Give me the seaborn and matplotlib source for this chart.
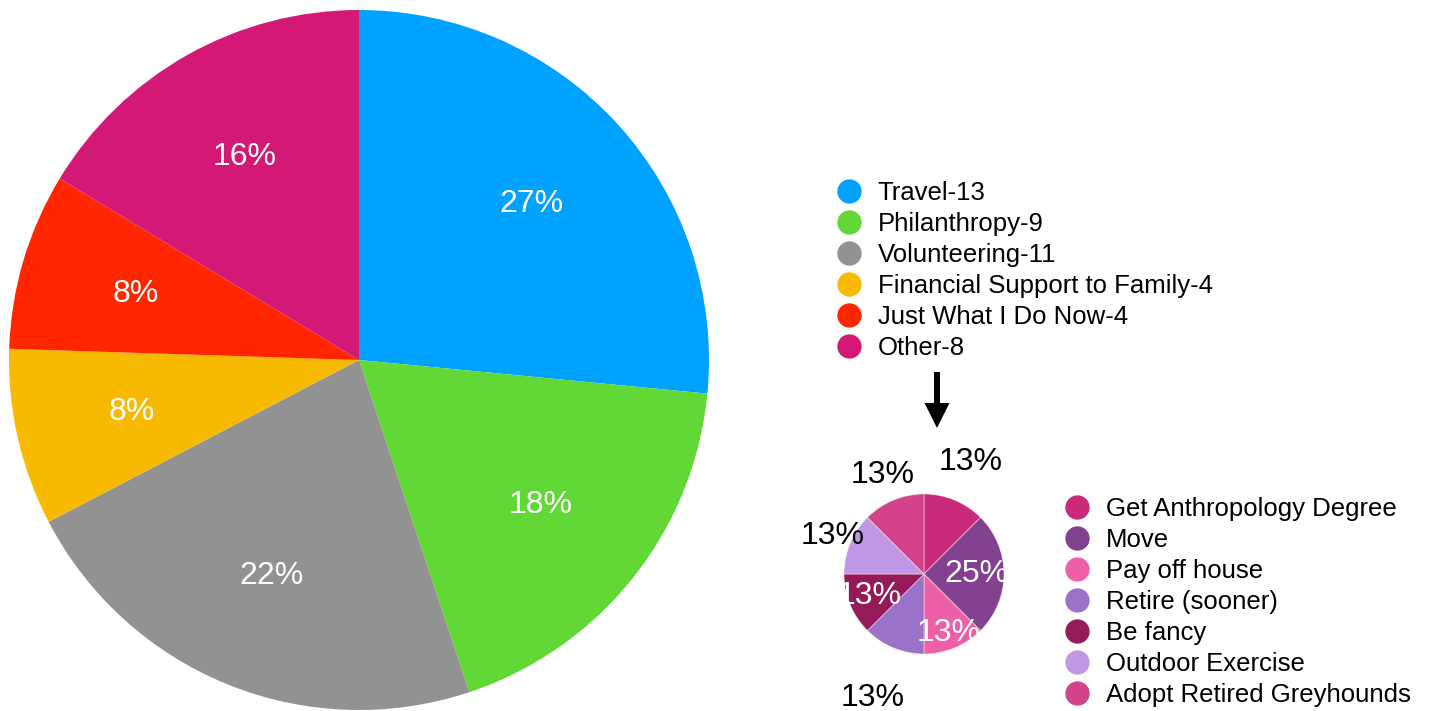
import numpy as np
import seaborn as sns
import matplotlib.pyplot as plt
from matplotlib.lines import Line2D

# main pie data
main_labels = ["Travel-13", "Philanthropy-9", "Volunteering-11",
               "Financial Support to Family-4", "Just What I Do Now-4", "Other-8"]
main_counts = [13, 9, 11, 4, 4, 8]
main_colors = ["#00A2FF", "#61D836", "#929292", "#F8BA00", "#FF2600", "#D31876"]

# breakdown of "Other"
other_labels = ["Get Anthropology Degree", "Move", "Pay off house", "Retire (sooner)",
                "Be fancy", "Outdoor Exercise", "Adopt Retired Greyhounds"]
other_counts = [1, 2, 1, 1, 1, 1, 1]
other_colors = ["#CA2A7A", "#81418F", "#EF5FA8", "#9B72CA", "#961A58", "#BE97E5", "#D3428A"]
# where each percent label sits (fraction of radius) and its colour
other_label_dist = [1.52, 0.66, 0.80, 1.68, 0.73, 1.24, 1.34]
other_label_color = ["black", "white", "white", "black", "white", "black", "black"]

sns.set_theme(style="white")
plt.rcParams["font.family"] = ["Liberation Sans", "DejaVu Sans"]
plt.rcParams["text.color"] = "black"

W, H = 1444, 711
fig = plt.figure(figsize=(W / 100, H / 100), dpi=100)


def pct(p):
    # round half up, 12.5 -> 13
    return f"{int(p + 0.5)}%"


# big pie
ax1 = fig.add_axes([(359 - 350) / W, (H - 360 - 350) / H, 700 / W, 700 / H])
wedges, _, autotexts = ax1.pie(main_counts, colors=main_colors, startangle=90,
                               counterclock=False, autopct=pct, pctdistance=0.665,
                               wedgeprops=dict(linewidth=0),
                               textprops=dict(color="white", fontsize=23))
ax1.set_xlim(-1, 1)
ax1.set_ylim(-1, 1)

# small pie
ax2 = fig.add_axes([(924 - 80) / W, (H - 574 - 80) / H, 160 / W, 160 / H])
w2, _, at2 = ax2.pie(other_counts, colors=other_colors, startangle=90,
                     counterclock=False, autopct=pct,
                     wedgeprops=dict(linewidth=0.7, edgecolor=(1, 1, 1, 0.45)),
                     textprops=dict(fontsize=23))
ax2.set_xlim(-1, 1)
ax2.set_ylim(-1, 1)
for w, t, d, c in zip(w2, at2, other_label_dist, other_label_color):
    ang = np.deg2rad((w.theta1 + w.theta2) / 2)
    t.set_position((d * np.cos(ang), d * np.sin(ang)))
    t.set_color(c)

# legends
def handles(colors):
    return [Line2D([], [], marker="o", linestyle="", markersize=16.5,
                   markerfacecolor=c, markeredgecolor=c) for c in colors]

leg_kw = dict(loc="upper left", frameon=False, fontsize=18.5, handlelength=1.0,
              handletextpad=0.62, labelspacing=0.27, borderpad=0, borderaxespad=0,
              labelcolor="black")
fig.legend(handles(main_colors), main_labels,
           bbox_to_anchor=((849 - 13) / W, 1 - 181 / H), **leg_kw)
fig.legend(handles(other_colors), other_labels,
           bbox_to_anchor=((1077 - 13) / W, 1 - 497 / H), **leg_kw)

# arrow from legend down to the breakdown pie
fig.add_artist(plt.Annotation("", xy=(937 / W, 1 - 428 / H), xytext=(937 / W, 1 - 372 / H),
                              xycoords="figure fraction", textcoords="figure fraction",
                              arrowprops=dict(facecolor="black", edgecolor="none",
                                              width=4.3, headwidth=18, headlength=18,
                                              shrink=0)))

fig.savefig("out.png", dpi=100)
